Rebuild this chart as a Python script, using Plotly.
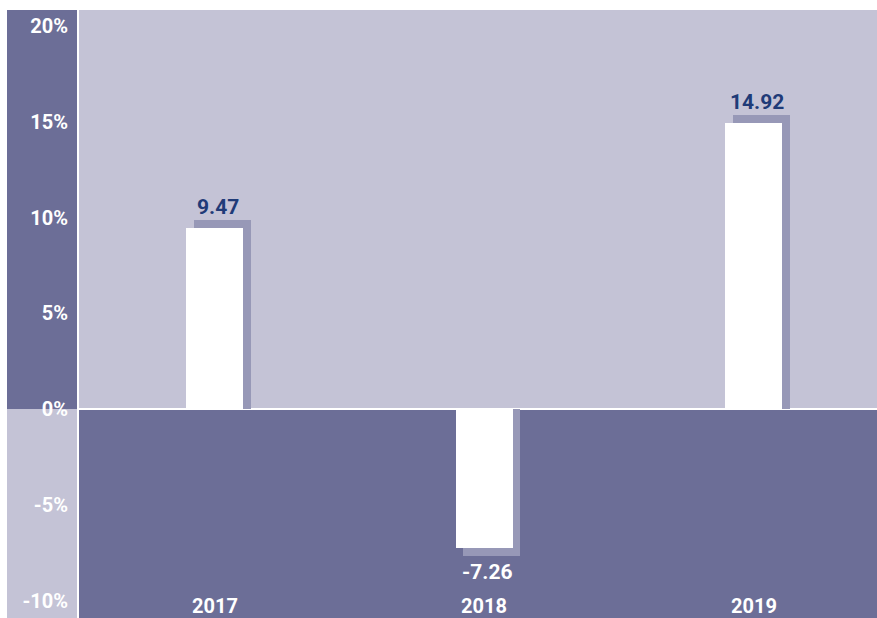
import plotly.graph_objects as go

years = ["2017", "2018", "2019"]
returns = [9.47, -7.26, 14.92]
tick_vals = [20, 15, 10, 5, 0, -5, -10]
tick_text = ["20%", "15%", "10%", "5%", "0%", "-5%", "-10%"]

DARK = "#6c6e97"
LIGHT = "#c4c3d6"
SHADOW = "#9798b7"
NAVY = "#1f3b78"
FONT = "Roboto, Liberation Sans, Arial, sans-serif"

W, H = 877, 618
YMIN, YMAX = -10.91, 20.84
XMIN, XMAX = -0.503, 2.458
BAR_W = 0.212
SH_DX = 0.029     # shadow shift right (x units)
SH_DY = 0.42      # shadow extension (y units)
YEAR_Y = -10.29

xs = list(range(len(years)))
shadow_vals = [v + SH_DY if v >= 0 else v - SH_DY for v in returns]

fig = go.Figure()
fig.add_trace(go.Bar(x=xs, y=shadow_vals, width=BAR_W, offset=-BAR_W / 2 + SH_DX,
                     marker=dict(color=SHADOW, line=dict(width=0)), hoverinfo="skip"))
fig.add_trace(go.Bar(x=xs, y=returns, width=BAR_W, offset=-BAR_W / 2,
                     marker=dict(color="white", line=dict(width=0)),
                     hovertemplate="%{y:.2f}%<extra></extra>"))

x0p = 79 / W
shapes = [
    # plot area: dark below zero
    dict(type="rect", xref="paper", yref="y", x0=x0p, x1=1, y0=YMIN, y1=0,
         fillcolor=DARK, line=dict(width=0), layer="below"),
    # left column: dark above zero, light below
    dict(type="rect", xref="paper", yref="y", x0=7 / W, x1=77 / W, y0=0, y1=YMAX,
         fillcolor=DARK, line=dict(width=0), layer="below"),
    dict(type="rect", xref="paper", yref="y", x0=7 / W, x1=77 / W, y0=YMIN, y1=0,
         fillcolor=LIGHT, line=dict(width=0), layer="below"),
]

annotations = []
for x, v, s in zip(xs, returns, shadow_vals):
    pos = v >= 0
    annotations.append(dict(x=x + SH_DX / 2, y=s, xref="x", yref="y", text=f"{v:.2f}",
                            showarrow=False, yanchor="middle",
                            yshift=13 if pos else -16,
                            font=dict(family=FONT, size=21,
                                      color=NAVY if pos else "white", weight="bold")))
for x, yr in zip(xs, years):
    annotations.append(dict(x=x, y=YEAR_Y, xref="x", yref="y", text=yr,
                            showarrow=False, yanchor="middle",
                            font=dict(family=FONT, size=20, color="white", weight="bold")))

fig.update_layout(
    width=W, height=H,
    margin=dict(l=0, r=0, t=10, b=0),
    paper_bgcolor="white",
    plot_bgcolor=LIGHT,
    barmode="overlay",
    bargap=0,
    showlegend=False,
    shapes=shapes,
    annotations=annotations,
    xaxis=dict(domain=[x0p, 1], range=[XMIN, XMAX], showticklabels=False,
               showgrid=False, zeroline=False, fixedrange=True),
    yaxis=dict(range=[YMIN, YMAX], tickvals=tick_vals, ticktext=tick_text,
               showgrid=False, zeroline=True, zerolinecolor="white", zerolinewidth=2,
               ticks="outside", ticklen=6, tickcolor="rgba(0,0,0,0)",
               tickfont=dict(family=FONT, size=20, color="white", weight="bold"),
               fixedrange=True),
)

fig.write_html(
    "out.html",
    config={"displayModeBar": False},
    post_script="document.body.style.margin='0';"
                "document.documentElement.style.overflow='hidden';",
)
